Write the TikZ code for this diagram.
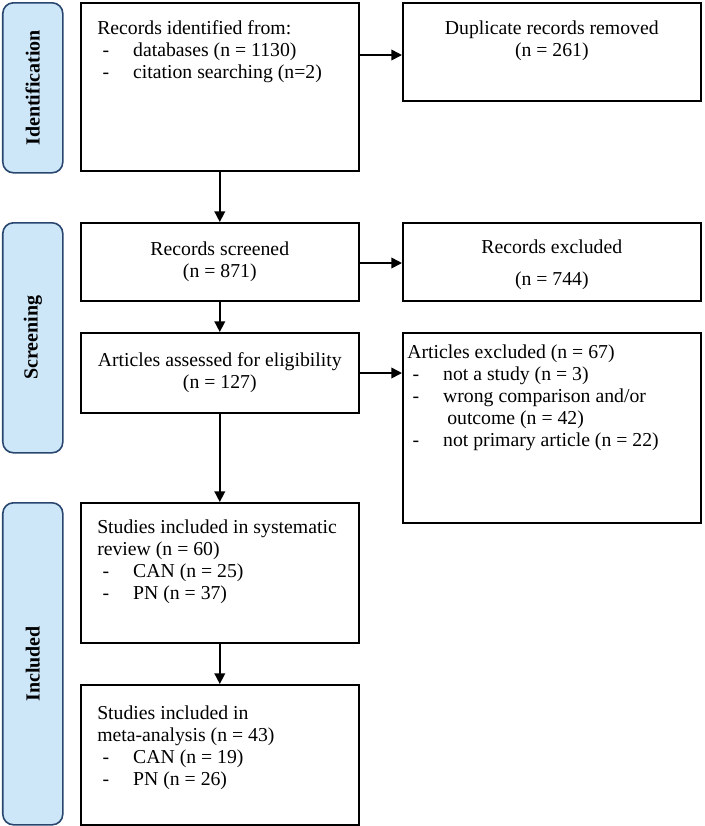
\documentclass[tikz,border=0pt]{standalone}
\usepackage{fontspec}
\setmainfont{Liberation Serif}
\usetikzlibrary{arrows.meta, positioning}
\definecolor{barfill}{RGB}{205,230,248}
\definecolor{bardraw}{RGB}{40,70,110}
\begin{document}
\begin{tikzpicture}[x=0.75pt,y=-0.75pt, font=\fontsize{14.8}{16.5}\selectfont,
  box/.style={draw, line width=1.2pt, anchor=north west, inner sep=0pt},
  txt/.style={anchor=north west, align=left, inner sep=0pt},
  bar/.style={draw=bardraw, line width=1.2pt, fill=barfill, rounded corners=8pt, anchor=north west, inner sep=0pt},
  barlabel/.style={rotate=90, font=\fontsize{15}{18}\selectfont\bfseries},
  flow/.style={-{Triangle[length=8pt,width=8pt]}, line width=1.2pt}]
\useasboundingbox (0,0) rectangle (705,826);
% phase bars
\node[bar, minimum width=45pt, minimum height=170*0.75pt] (idbar) at (2,2) {};
\node[barlabel] at (idbar.center) {Identification};
\node[bar, minimum width=45pt, minimum height=230*0.75pt] (scbar) at (2,222) {};
\node[barlabel] at (scbar.center) {Screening};
\node[bar, minimum width=45pt, minimum height=322*0.75pt] (inbar) at (2,502) {};
\node[barlabel] at (inbar.center) {Included};
% boxes
\node[box, minimum width=278*0.75pt, minimum height=168*0.75pt] (ident) at (80,2) {};
\node[txt] at (97,20) {Records identified from:\\
  \hspace*{4pt}-\hspace{18pt}databases (n = 1130)\\
  \hspace*{4pt}-\hspace{18pt}citation searching (n=2)};
\node[box, minimum width=298*0.75pt, minimum height=98*0.75pt] (dup) at (402,2) {};
\node[anchor=north, align=center, inner sep=0pt] at ([yshift=-14pt]dup.north) {Duplicate records removed\\(n = 261)};
\node[box, minimum width=278*0.75pt, minimum height=78*0.75pt] (screen) at (80,222) {};
\node[align=center, inner sep=0pt] at (screen.center) {Records screened\\(n = 871)};
\node[box, minimum width=298*0.75pt, minimum height=78*0.75pt] (rexcl) at (402,222) {};
\node[anchor=north, inner sep=0pt] at ([yshift=-13pt]rexcl.north) {Records excluded};
\node[anchor=north, inner sep=0pt] at ([yshift=-37pt]rexcl.north) {(n = 744)};
\node[box, minimum width=278*0.75pt, minimum height=80*0.75pt] (assess) at (80,332) {};
\node[align=center, inner sep=0pt] at (assess.center) {Articles assessed for eligibility\\(n = 127)};
\node[box, minimum width=298*0.75pt, minimum height=190*0.75pt] (aexcl) at (402,332) {};
\node[txt] at (407,345) {Articles excluded (n = 67)\\
  \hspace*{4pt}-\hspace{18pt}not a study (n = 3)\\
  \hspace*{4pt}-\hspace{18pt}wrong comparison and/or\\
  \hspace*{30pt}outcome (n = 42)\\
  \hspace*{4pt}-\hspace{18pt}not primary article (n = 22)};
\node[box, minimum width=278*0.75pt, minimum height=140*0.75pt] (sysrev) at (80,502) {};
\node[txt] at (97,520) {Studies included in systematic\\review (n = 60)\\
  \hspace*{4pt}-\hspace{18pt}CAN (n = 25)\\
  \hspace*{4pt}-\hspace{18pt}PN (n = 37)};
\node[box, minimum width=278*0.75pt, minimum height=140*0.75pt] (meta) at (80,684) {};
\node[txt] at (97,706) {Studies included in\\meta-analysis (n = 43)\\
  \hspace*{4pt}-\hspace{18pt}CAN (n = 19)\\
  \hspace*{4pt}-\hspace{18pt}PN (n = 26)};
% connectors
\draw[flow] (ident.south) -- (screen.north);
\draw[flow] (screen.south) -- (assess.north);
\draw[flow] (assess.south) -- (sysrev.north);
\draw[flow] (sysrev.south) -- (meta.north);
\draw[flow] (ident.east |- 0,55) -- (dup.west |- 0,55);
\draw[flow] (screen.east |- 0,263) -- (rexcl.west |- 0,263);
\draw[flow] (assess.east |- 0,373) -- (aexcl.west |- 0,373);
\end{tikzpicture}
\end{document}
